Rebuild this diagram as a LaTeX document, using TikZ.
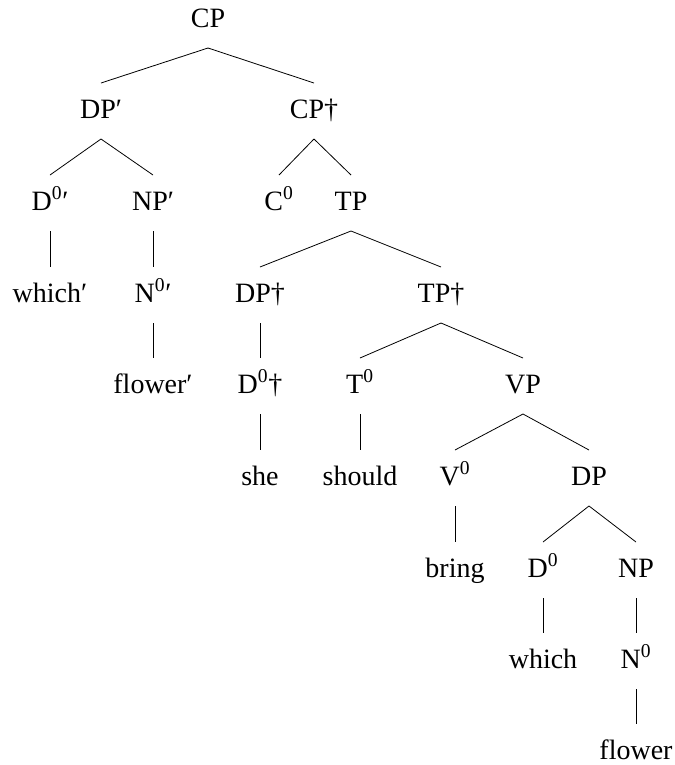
\documentclass[tikz,border=0pt]{standalone}
\usepackage{fontspec}
\setmainfont{Liberation Serif}
\usetikzlibrary{calc}
\newcommand\treeedge[2]{\draw[edge] ($(#1.base)+(0,21)$) -- ($(#2.base)+(0,-35)$);}
\begin{document}
\begin{tikzpicture}[x=0.75pt,y=-0.75pt,
  lbl/.style={anchor=base, inner sep=0pt, font=\fontsize{21}{25}\selectfont},
  edge/.style={line width=0.6pt}]
\useasboundingbox (0,0) rectangle (675,765);
\node[lbl] (cp) at (208,27) {CP};
\node[lbl] (dp1) at (101,118) {DP′};
\node[lbl] (cpd) at (314,118) {CP†};
\node[lbl] (d01) at (50,210) {D\textsuperscript{0}′};
\node[lbl] (np1) at (153,210) {NP′};
\node[lbl] (c0) at (279,210) {C\textsuperscript{0}};
\node[lbl] (tp) at (351,210) {TP};
\node[lbl] (which1) at (50,302) {which′};
\node[lbl] (n01) at (153,302) {N\textsuperscript{0}′};
\node[lbl] (dpd) at (260,302) {DP†};
\node[lbl] (tpd) at (441,302) {TP†};
\node[lbl] (flower1) at (153,393) {flower′};
\node[lbl] (d0d) at (260,393) {D\textsuperscript{0}†};
\node[lbl] (t0) at (360,393) {T\textsuperscript{0}};
\node[lbl] (vp) at (523,393) {VP};
\node[lbl] (she) at (260,485) {she};
\node[lbl] (should) at (360,485) {should};
\node[lbl] (v0) at (455,485) {V\textsuperscript{0}};
\node[lbl] (dp) at (589,485) {DP};
\node[lbl] (bring) at (455,577) {bring};
\node[lbl] (d0) at (543,577) {D\textsuperscript{0}};
\node[lbl] (np) at (636,577) {NP};
\node[lbl] (which) at (543,668) {which};
\node[lbl] (n0) at (636,668) {N\textsuperscript{0}};
\node[lbl] (flower) at (636,759) {flower};
\treeedge{cp}{dp1}
\treeedge{cp}{cpd}
\treeedge{dp1}{d01}
\treeedge{dp1}{np1}
\treeedge{cpd}{c0}
\treeedge{cpd}{tp}
\treeedge{d01}{which1}
\treeedge{np1}{n01}
\treeedge{tp}{dpd}
\treeedge{tp}{tpd}
\treeedge{n01}{flower1}
\treeedge{dpd}{d0d}
\treeedge{tpd}{t0}
\treeedge{tpd}{vp}
\treeedge{d0d}{she}
\treeedge{t0}{should}
\treeedge{vp}{v0}
\treeedge{vp}{dp}
\treeedge{v0}{bring}
\treeedge{dp}{d0}
\treeedge{dp}{np}
\treeedge{d0}{which}
\treeedge{np}{n0}
\treeedge{n0}{flower}
\end{tikzpicture}
\end{document}
